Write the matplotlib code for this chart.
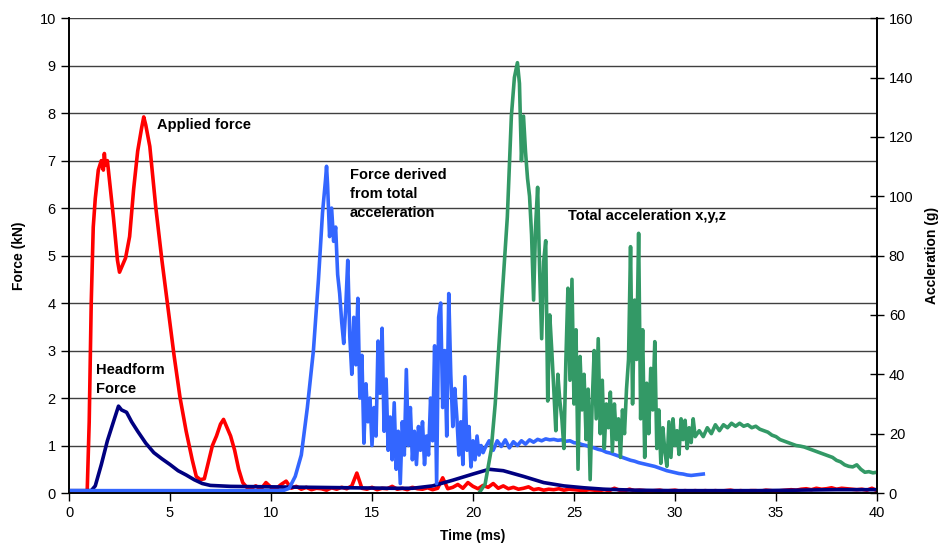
import matplotlib.pyplot as plt
import numpy as np

plt.rcParams['font.family'] = ['Liberation Sans', 'DejaVu Sans']

# Applied force (kN) - main impulse, then noisy tail sampled every 0.25 ms from 9 to 40 ms
applied_t = [0, 0.9, 1.0, 1.1, 1.2, 1.3, 1.45, 1.6, 1.7, 1.75, 1.8, 1.9, 2.0, 2.2, 2.4, 2.5,
             2.6, 2.8, 3.0, 3.2, 3.4, 3.6, 3.7, 3.8, 4.0, 4.3, 4.6, 4.9, 5.2, 5.5, 5.8, 6.1,
             6.3, 6.5, 6.7, 6.9, 7.1, 7.3, 7.5, 7.65, 7.8, 8.0, 8.2, 8.4, 8.6, 8.8]
applied_f = [0.03, 0.03, 1.5, 4.0, 5.6, 6.2, 6.8, 7.0, 6.8, 7.15, 6.9, 7.0, 6.6, 5.8, 4.9, 4.65,
             4.75, 4.95, 5.4, 6.4, 7.2, 7.7, 7.92, 7.75, 7.3, 6.0, 4.9, 3.9, 2.9, 2.0, 1.3, 0.7,
             0.35, 0.28, 0.3, 0.65, 1.0, 1.2, 1.45, 1.55, 1.4, 1.2, 0.9, 0.5, 0.22, 0.12]
applied_tail = [0.10, 0.15, 0.08, 0.22, 0.12, 0.09, 0.18, 0.25, 0.10, 0.14,
                0.08, 0.12, 0.07, 0.10, 0.09, 0.06, 0.11, 0.08, 0.12, 0.09,
                0.15, 0.42, 0.10, 0.08, 0.12, 0.07, 0.10, 0.09, 0.14, 0.08,
                0.10, 0.07, 0.12, 0.09, 0.08, 0.11, 0.07, 0.10, 0.32, 0.09,
                0.12, 0.18, 0.10, 0.22, 0.14, 0.09, 0.16, 0.12, 0.20, 0.10,
                0.15, 0.09, 0.12, 0.08, 0.10, 0.13, 0.07, 0.09, 0.06, 0.08,
                0.07, 0.09, 0.06, 0.08, 0.07, 0.06, 0.05, 0.07, 0.06, 0.05,
                0.07, 0.05, 0.10, 0.06, 0.05, 0.08, 0.05, 0.06, 0.05, 0.04,
                0.05, 0.06, 0.04, 0.05, 0.06, 0.04, 0.05, 0.04, 0.05, 0.04,
                0.05, 0.04, 0.05, 0.04, 0.05, 0.06, 0.04, 0.05, 0.04, 0.05,
                0.05, 0.04, 0.06, 0.05, 0.04, 0.05, 0.06, 0.07, 0.06, 0.08,
                0.09, 0.07, 0.10, 0.08, 0.09, 0.11, 0.08, 0.10, 0.09, 0.08,
                0.07, 0.08, 0.06, 0.10, 0.05]

# Headform force (kN)
head_t = [0, 1.1, 1.3, 1.6, 1.9, 2.2, 2.45, 2.6, 2.85, 3.1, 3.4, 3.8, 4.2, 4.6, 5.0, 5.4,
          5.8, 6.2, 6.6, 7.0, 8, 10, 12, 14, 16, 17, 18, 19, 20, 20.8, 21.5, 22.5, 23.5,
          24.5, 25.5, 26.5, 28, 30, 32, 34, 36, 38, 40]
head_f = [0.05, 0.05, 0.15, 0.6, 1.1, 1.5, 1.83, 1.75, 1.7, 1.5, 1.3, 1.05, 0.85, 0.72, 0.6, 0.47,
          0.38, 0.28, 0.2, 0.16, 0.14, 0.13, 0.12, 0.11, 0.1, 0.1, 0.15, 0.27, 0.4, 0.5, 0.47, 0.35, 0.22,
          0.15, 0.11, 0.08, 0.06, 0.05, 0.05, 0.05, 0.06, 0.07, 0.07]

# Force derived from total acceleration (kN)
derived_t = [0, 10.6, 10.9, 11.2, 11.5, 11.8, 12.1, 12.35, 12.55, 12.7, 12.75]
derived_f = [0.05, 0.05, 0.1, 0.35, 0.8, 1.8, 3.0, 4.5, 5.9, 6.6, 6.88]
# 12.8 .. 20.5 ms, every 0.1 ms
derived_noisy = [6.5, 5.4, 6.0, 5.3, 5.6, 4.6, 4.2, 3.6, 3.15, 3.9, 4.9, 3.3, 2.5, 3.7, 2.7, 4.1,
                 2.0, 2.9, 1.05, 2.3, 1.5, 2.0, 1.0, 1.8, 1.2, 3.2, 2.1, 3.47, 1.3, 2.4, 0.9, 1.6,
                 0.7, 1.9, 0.5, 1.3, 0.2, 1.5, 0.8, 2.6, 1.0, 1.8, 0.7, 1.3, 0.6, 1.4, 0.9, 1.5,
                 0.6, 1.2, 0.8, 2.0, 1.1, 3.1, 0.2, 3.7, 4.0, 1.8, 3.0, 1.2, 4.2, 2.5, 1.4, 2.2,
                 1.6, 0.8, 1.5, 0.6, 2.45, 0.9, 1.4, 0.55, 1.1, 0.7, 1.2, 0.8, 1.0, 0.85]
# 20.6 .. 31.4 ms, every 0.2 ms
derived_band = [0.95, 1.1, 0.9, 1.1, 0.98, 1.12, 0.95, 1.08, 1.0, 1.1, 1.03, 1.12, 1.07, 1.13,
                1.1, 1.14, 1.12, 1.13, 1.11, 1.12, 1.09, 1.1, 1.06, 1.05, 1.02, 1.0, 0.97, 0.95,
                0.92, 0.9, 0.86, 0.84, 0.81, 0.78, 0.75, 0.72, 0.69, 0.67, 0.64, 0.62, 0.6, 0.58,
                0.56, 0.53, 0.5, 0.47, 0.45, 0.43, 0.41, 0.4, 0.38, 0.37, 0.38, 0.39, 0.4]

# Total acceleration x,y,z (g)
accel_t = [20.3, 20.6, 20.9, 21.1, 21.3, 21.5, 21.7, 21.9, 22.05, 22.2]
accel_g = [0, 3, 14.5, 30, 51.5, 72, 93, 127, 140, 145]
# 22.3 .. 31.0 ms, every 0.1 ms
accel_noisy = [138, 112, 127, 115, 106, 100, 87, 65, 90, 103, 75, 52, 78, 85, 31, 60, 48, 35,
               21, 40, 31, 25, 15, 45, 69, 38, 72, 30, 55, 8, 46, 28, 40, 18, 35, 4.5, 30, 48,
               25, 52, 20, 38, 15, 30, 22, 34, 14, 30, 18, 25, 12, 28, 20, 35, 45, 83, 30, 65,
               45, 87.5, 25, 55, 12, 37, 20, 42, 28, 51, 15, 28, 10, 22, 14, 9, 24, 12, 25, 16,
               21, 13, 25, 18, 24.5, 15, 22, 17, 25, 19]
# 31.2 .. 40 ms, every 0.2 ms
accel_tail = [21, 19, 22, 20, 23, 21, 23, 22, 23.5, 22.5, 23.5, 22.5, 23, 22, 22.5, 21.5, 21,
              20.5, 19.5, 19, 18, 17.5, 17, 16.5, 16, 15.8, 15.5, 15, 14.5, 14, 13.5, 13, 12.5,
              12, 11, 10.5, 9.5, 9, 8.8, 9.5, 8, 7, 7.2, 6.8, 7]

applied_t = applied_t + list(np.linspace(9, 40, len(applied_tail)))
applied_f = applied_f + applied_tail
derived_t = derived_t + list(np.linspace(12.8, 20.5, len(derived_noisy))) + \
    list(np.linspace(20.6, 31.4, len(derived_band)))
derived_f = derived_f + derived_noisy + derived_band
accel_t = accel_t + list(np.linspace(22.3, 31.0, len(accel_noisy))) + \
    list(np.linspace(31.2, 40, len(accel_tail)))
accel_g = accel_g + accel_noisy + accel_tail

fig = plt.figure(figsize=(9.44, 5.5), dpi=100)
ax = fig.add_axes([0.0731, 0.1036, 0.8559, 0.8634])
ax2 = ax.twinx()

ax.plot(applied_t, applied_f, color='#ff0000', lw=2.6, zorder=3)
ax.plot(head_t, head_f, color='#000080', lw=2.6, zorder=4)
ax.plot(derived_t, derived_f, color='#3366ff', lw=2.6, zorder=5)
ax2.plot(accel_t, accel_g, color='#339966', lw=2.6)

ax.set_xlim(0, 40)
ax.set_ylim(0, 10)
ax2.set_ylim(0, 160)
ax.set_xticks(range(0, 41, 5))
ax.set_yticks(range(0, 11))
ax2.set_yticks(range(0, 161, 20))

ax.grid(axis='y', color='#404040', lw=1)
ax.set_axisbelow(True)
for a in (ax, ax2):
    a.spines['top'].set_visible(False)
    for s in a.spines.values():
        s.set_linewidth(1.2)
ax.tick_params(axis='both', direction='out', length=6, width=1, labelsize=10.5)
ax2.tick_params(axis='y', direction='inout', length=10, width=1, labelsize=10.5)

ax.set_xlabel('Time (ms)', fontsize=10, fontweight='bold', labelpad=6)
ax.set_ylabel('Force (kN)', fontsize=10, fontweight='bold', labelpad=10)
ax2.set_ylabel('Accleration (g)', fontsize=10, fontweight='bold', labelpad=8)

kw = dict(fontsize=10.5, fontweight='bold', va='center', ha='left')
ax.text(4.35, 7.75, 'Applied force', **kw)
ax.text(1.35, 2.4, 'Headform\nForce', linespacing=1.45, **kw)
ax.text(13.9, 6.3, 'Force derived\nfrom total\nacceleration', linespacing=1.45, **kw)
ax.text(24.7, 5.83, 'Total acceleration x,y,z', **kw)

fig.savefig('out.png', dpi=100)
